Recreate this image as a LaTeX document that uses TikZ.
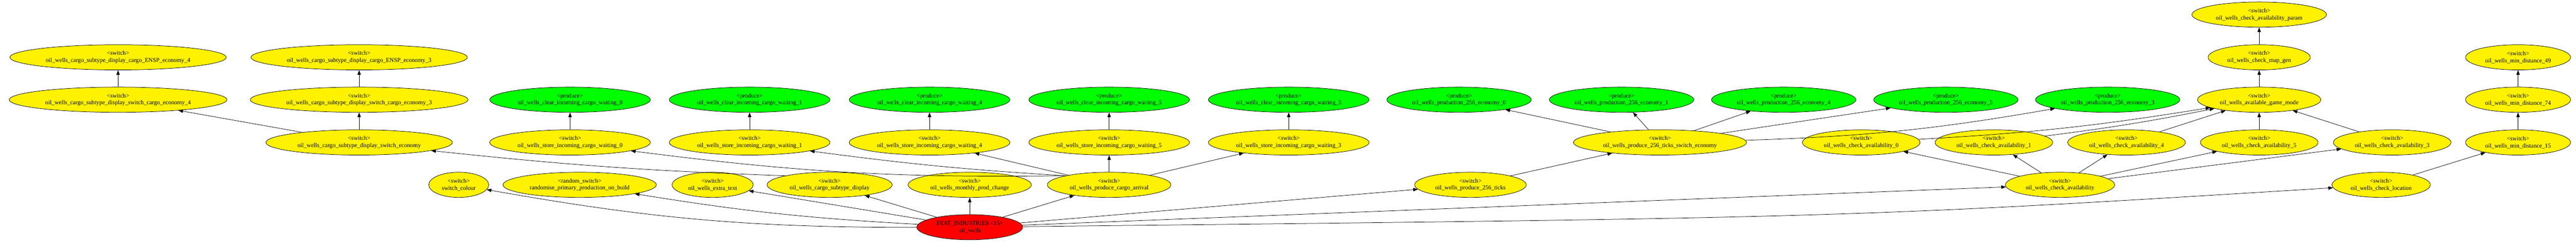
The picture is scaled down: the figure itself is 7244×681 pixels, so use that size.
\documentclass[tikz,border=0pt]{standalone}
\usepackage{fontspec}
\setmainfont{Liberation Serif}
\usetikzlibrary{shapes.geometric,arrows.meta}
\begin{document}
\begin{tikzpicture}[x=0.8333pt,y=0.8333pt,line width=0.9pt,>={Triangle[length=11pt,width=8pt]},
  nd/.style={ellipse,draw=black,align=center,inner xsep=10pt,inner ysep=0pt,minimum height=59pt,font=\fontsize{14pt}{16.8pt}\selectfont},
  sw/.style={nd,fill=yellow},
  pr/.style={nd,fill=green},
  ft/.style={nd,fill=red}]
\useasboundingbox (0,0) rectangle (7244,681);
\node[sw] (gparam) at (6353,640) {<switch>\\oil\_wells\_check\_availability\_param};
\node[sw] (ensp4) at (332,520) {<switch>\\oil\_wells\_cargo\_subtype\_display\_cargo\_ENSP\_economy\_4};
\node[sw] (ensp3) at (1010,520) {<switch>\\oil\_wells\_cargo\_subtype\_display\_cargo\_ENSP\_economy\_3};
\node[sw] (mapgen) at (6353,520) {<switch>\\oil\_wells\_check\_map\_gen};
\node[sw] (md49) at (7081,520) {<switch>\\oil\_wells\_min\_distance\_49};
\node[sw] (dsce4) at (332,401) {<switch>\\oil\_wells\_cargo\_subtype\_display\_switch\_cargo\_economy\_4};
\node[sw] (dsce3) at (1010,401) {<switch>\\oil\_wells\_cargo\_subtype\_display\_switch\_cargo\_economy\_3};
\node[pr] (clr0) at (1603,401) {<produce>\\oil\_wells\_clear\_incoming\_cargo\_waiting\_0};
\node[pr] (clr1) at (2108,401) {<produce>\\oil\_wells\_clear\_incoming\_cargo\_waiting\_1};
\node[pr] (clr4) at (2614,401) {<produce>\\oil\_wells\_clear\_incoming\_cargo\_waiting\_4};
\node[pr] (clr5) at (3119,401) {<produce>\\oil\_wells\_clear\_incoming\_cargo\_waiting\_5};
\node[pr] (clr3) at (3624,401) {<produce>\\oil\_wells\_clear\_incoming\_cargo\_waiting\_3};
\node[pr] (prod0) at (4103,401) {<produce>\\oil\_wells\_production\_256\_economy\_0};
\node[pr] (prod1) at (4560,401) {<produce>\\oil\_wells\_production\_256\_economy\_1};
\node[pr] (prod4) at (5016,401) {<produce>\\oil\_wells\_production\_256\_economy\_4};
\node[pr] (prod5) at (5472,401) {<produce>\\oil\_wells\_production\_256\_economy\_5};
\node[pr] (prod3) at (5927,401) {<produce>\\oil\_wells\_production\_256\_economy\_3};
\node[sw] (gamemode) at (6353,401) {<switch>\\oil\_wells\_available\_game\_mode};
\node[sw] (md74) at (7081,401) {<switch>\\oil\_wells\_min\_distance\_74};
\node[sw] (dse) at (1010,281) {<switch>\\oil\_wells\_cargo\_subtype\_display\_switch\_economy};
\node[sw] (st0) at (1603,281) {<switch>\\oil\_wells\_store\_incoming\_cargo\_waiting\_0};
\node[sw] (st1) at (2108,281) {<switch>\\oil\_wells\_store\_incoming\_cargo\_waiting\_1};
\node[sw] (st4) at (2614,281) {<switch>\\oil\_wells\_store\_incoming\_cargo\_waiting\_4};
\node[sw] (st5) at (3119,281) {<switch>\\oil\_wells\_store\_incoming\_cargo\_waiting\_5};
\node[sw] (st3) at (3624,281) {<switch>\\oil\_wells\_store\_incoming\_cargo\_waiting\_3};
\node[sw] (tse) at (4668,281) {<switch>\\oil\_wells\_produce\_256\_ticks\_switch\_economy};
\node[sw] (ca0) at (5234,281) {<switch>\\oil\_wells\_check\_availability\_0};
\node[sw] (ca1) at (5607,281) {<switch>\\oil\_wells\_check\_availability\_1};
\node[sw] (ca4) at (5980,281) {<switch>\\oil\_wells\_check\_availability\_4};
\node[sw] (ca5) at (6353,281) {<switch>\\oil\_wells\_check\_availability\_5};
\node[sw] (ca3) at (6727,281) {<switch>\\oil\_wells\_check\_availability\_3};
\node[sw] (md15) at (7081,281) {<switch>\\oil\_wells\_min\_distance\_15};
\node[sw] (colour) at (1290,162) {<switch>\\switch\_colour};
\node[sw] (randprod) at (1630,162) {<random\_switch>\\randomise\_primary\_production\_on\_build};
\node[sw] (extra) at (2004,162) {<switch>\\oil\_wells\_extra\_text};
\node[sw] (csd) at (2333,162) {<switch>\\oil\_wells\_cargo\_subtype\_display};
\node[sw] (monthly) at (2727,162) {<switch>\\oil\_wells\_monthly\_prod\_change};
\node[sw] (arrival) at (3119,162) {<switch>\\oil\_wells\_produce\_cargo\_arrival};
\node[sw] (ticks) at (4135,162) {<switch>\\oil\_wells\_produce\_256\_ticks};
\node[sw] (avail) at (5793,162) {<switch>\\oil\_wells\_check\_availability};
\node[sw] (loc) at (6696,162) {<switch>\\oil\_wells\_check\_location};
\node[ft] (feat) at (2727,43) {FEAT\_INDUSTRIES <15>\\oil\_wells};
\draw[->] (dsce4) -- (ensp4);
\draw[->] (dsce3) -- (ensp3);
\draw[->] (dse) -- (dsce4);
\draw[->] (dse) -- (dsce3);
\draw[->] (csd.north west) to[bend left=2] (dse);
\draw[->] (st0) -- (clr0);
\draw[->] (st1) -- (clr1);
\draw[->] (st4) -- (clr4);
\draw[->] (st5) -- (clr5);
\draw[->] (st3) -- (clr3);
\draw[->] (arrival.north west) to[bend left=4] (st0);
\draw[->] (arrival.north west) to[bend left=2] (st1);
\draw[->] (arrival) -- (st4);
\draw[->] (arrival) -- (st5);
\draw[->] (arrival) -- (st3);
\draw[->] (ticks) -- (tse);
\draw[->] (tse) -- (prod0);
\draw[->] (tse) -- (prod1);
\draw[->] (tse) -- (prod4);
\draw[->] (tse) -- (prod5);
\draw[->] (tse) to[bend right=4] (prod3);
\draw[->] (avail) -- (ca0);
\draw[->] (avail) -- (ca1);
\draw[->] (avail) -- (ca4);
\draw[->] (avail) -- (ca5);
\draw[->] (avail) -- (ca3);
\draw[->] (ca0) to[bend right=3] (gamemode);
\draw[->] (ca1) to[bend right=2] (gamemode);
\draw[->] (ca4) -- (gamemode);
\draw[->] (ca5) -- (gamemode);
\draw[->] (ca3) -- (gamemode);
\draw[->] (gamemode) -- (mapgen);
\draw[->] (mapgen) -- (gparam);
\draw[->] (loc) -- (md15);
\draw[->] (md15) -- (md74);
\draw[->] (md74) -- (md49);
\draw[->] (feat) to[bend left=5] (colour);
\draw[->] (feat) to[bend left=3] (randprod);
\draw[->] (feat) -- (extra);
\draw[->] (feat) -- (csd);
\draw[->] (feat) -- (monthly);
\draw[->] (feat) -- (arrival);
\draw[->] (feat) -- (ticks);
\draw[->] (feat) -- (avail);
\draw[->] (feat) .. controls (5200,70) .. (loc);
\end{tikzpicture}
\end{document}
